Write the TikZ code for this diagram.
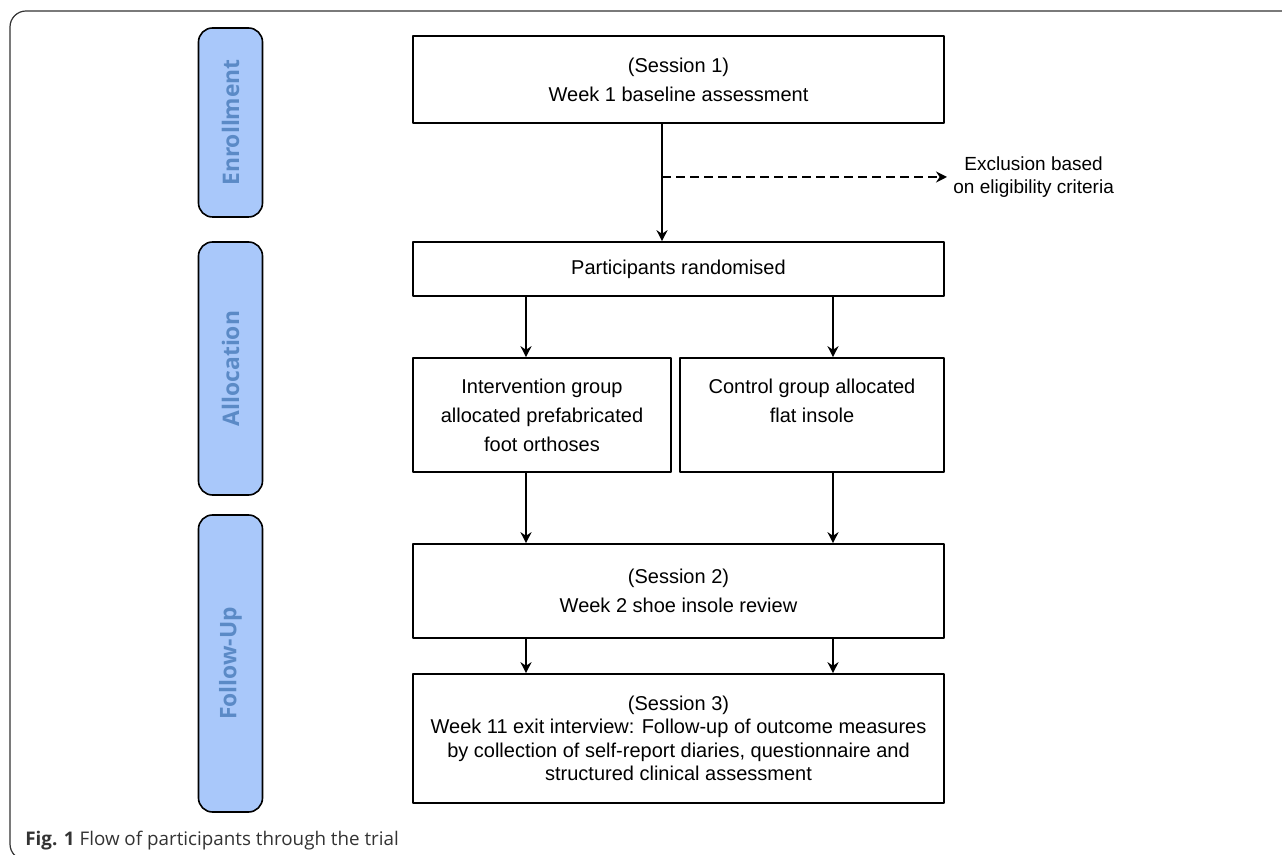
\documentclass[tikz,border=0pt]{standalone}
\usepackage{fontspec}
\setmainfont{Liberation Sans}
\newfontfamily\phasefont{Open Sans}
\usetikzlibrary{arrows.meta}
\definecolor{phasefill}{HTML}{A9C8FA}
\definecolor{phasetext}{HTML}{5B8AC6}
\definecolor{captext}{HTML}{333333}
\def\px{0.5pt}
\begin{document}
\begin{tikzpicture}[x=\px,y=-\px,line join=round,
	box/.style={draw,line width=0.8pt,align=center,inner sep=0pt,font=\fontsize{10}{14.5}\selectfont},
	phase/.style={draw,fill=phasefill,rounded corners=7pt,line width=0.8pt,minimum height=64*\px,rotate=90,
		text=phasetext,font=\phasefont\bfseries\fontsize{11.4}{14}\selectfont},
	arr/.style={line width=0.8pt,-{Stealth[length=5.5pt,width=5.5pt,inset=1.8pt]}}]
	\path[use as bounding box] (0,0) rectangle (1282,855);
	\begin{scope}
		\clip (0,0) rectangle (1282,855);
		\draw[line width=0.6pt,black!80,rounded corners=8pt] (10,11) rectangle (1300,860);
	\end{scope}
	% phases
	\node[phase,minimum width=189*\px] (enr) at (230.5,122.5) {Enrollment};
	\node[phase,minimum width=253*\px] (alloc) at (230.5,368.5) {Allocation};
	\node[phase,minimum width=297*\px] (fup) at (230.5,663.5) {Follow-Up};
	% boxes
	\node[box,minimum width=531*\px,minimum height=87*\px] (s1) at (678.5,79.5) {(Session 1)\\Week 1 baseline assessment};
	\node[box,minimum width=531*\px,minimum height=54*\px] (rand) at (678.5,269) {Participants randomised};
	\node[box,minimum width=258*\px,minimum height=114*\px] (int) at (542,415) {Intervention group\\allocated prefabricated\\foot orthoses};
	\node[box,minimum width=264*\px,minimum height=114*\px] (ctl) at (812,415) {Control group allocated\\flat insole\\\mbox{}};
	\node[box,minimum width=531*\px,minimum height=94*\px] (s2) at (678.5,591) {(Session 2)\\Week 2 shoe insole review};
	\node[box,minimum width=531*\px,minimum height=129*\px,font=\fontsize{10}{11.65}\selectfont] (s3) at (678.5,738.5)
		{(Session 3)\\Week 11 exit interview: Follow-up of outcome measures\\by collection of self-report diaries, questionnaire and\\structured clinical assessment};
	\node[align=center,anchor=west,inner sep=3pt,font=\fontsize{9.5}{11.65}\selectfont] (excl) at (947,177) {Exclusion based\\on eligibility criteria};
	% arrows
	\coordinate (la) at (526,0);
	\coordinate (lb) at (833,0);
	\coordinate (lc) at (662,0);
	\draw[arr] (s1.south -| lc) -- (rand.north -| lc);
	\draw[arr,dash pattern=on 4.5pt off 2.5pt] (excl.west -| lc) -- (excl.west);
	\foreach \l/\t in {la/int,lb/ctl}{
		\draw[arr] (rand.south -| \l) -- (\t.north -| \l);
		\draw[arr] (\t.south -| \l) -- (s2.north -| \l);
		\draw[arr] (s2.south -| \l) -- (s3.north -| \l);}
	\node[anchor=base west,inner sep=0pt,text=captext,font=\phasefont\fontsize{9.4}{12}\selectfont] (cap) at (25,845.5)
		{\textbf{Fig. 1} Flow of participants through the trial};
\end{tikzpicture}
\end{document}
